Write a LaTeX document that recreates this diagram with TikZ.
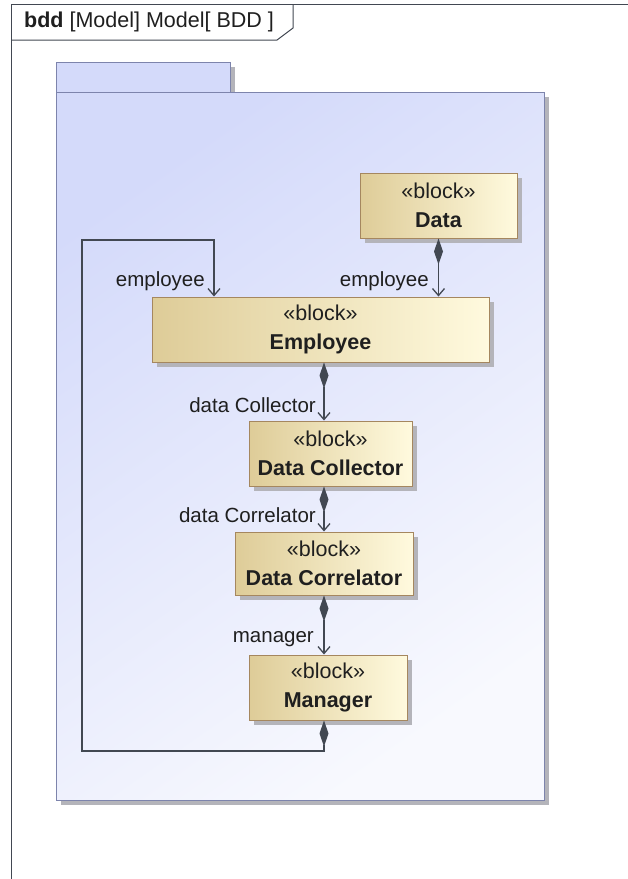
\documentclass[tikz,border=0pt]{standalone}
\usepackage{fontspec}
\setmainfont{Liberation Sans}
\usetikzlibrary{arrows.meta,shadows}

\definecolor{blockL}{RGB}{222,204,152}
\definecolor{blockR}{RGB}{255,250,222}
\definecolor{blockedge}{RGB}{165,135,95}
\definecolor{pkgA}{RGB}{212,218,250}
\definecolor{pkgB}{RGB}{248,249,254}
\definecolor{pkgedge}{RGB}{125,132,172}
\definecolor{linec}{RGB}{66,72,82}
\definecolor{shadowc}{RGB}{180,180,186}

\begin{document}
\begin{tikzpicture}[x=1pt,y=-1pt,
  every node/.style={font=\fontsize{20.5}{29}\selectfont,text=black!88},
  block/.style={draw=blockedge,line width=1pt,left color=blockL,right color=blockR,
    align=center,inner sep=0pt,font=\fontsize{21.5}{29}\selectfont,
    drop shadow={shadow xshift=5pt,shadow yshift=-5pt,fill=shadowc,opacity=1}},
  lbl/.style={anchor=east,inner sep=1pt},
  comp/.style={draw=linec,line width=1.3pt,
    {Diamond[length=26pt,width=9pt]}-{Straight Barb[length=7pt,width=12pt]}}]
  \useasboundingbox (0,0) rectangle (628,879);
  % diagram frame
  \draw[linec,line width=1pt] (11,879) -- (11,4) -- (628,4);
  \draw[linec,line width=1pt] (11,40) -- (277,40) -- (293,28) -- (293,4);
  \node[anchor=west,inner sep=0pt,font=\fontsize{21.5}{24}\selectfont] (title) at (24,22)
    {\textbf{bdd} [Model] Model[ BDD ]};
  % package
  \fill[shadowc] (61,67) rectangle (235,97);
  \fill[shadowc] (61,97) rectangle (549,805);
  \draw[pkgedge,fill=pkgA,line width=1pt] (56,62) rectangle (230,92);
  \draw[pkgedge,top color=pkgA,bottom color=pkgB,shading angle=35,line width=1pt]
    (56,92) rectangle (544,800);
  % blocks
  \node[block,minimum width=157pt,minimum height=65pt] (data) at (438.5,205.5)
    {«block»\\\textbf{Data}};
  \node[block,minimum width=337pt,minimum height=65pt] (employee) at (320.5,329.5)
    {«block»\\\textbf{Employee}};
  \node[block,minimum width=163pt,minimum height=65pt] (collector) at (330.5,453.5)
    {«block»\\\textbf{Data Collector}};
  \node[block,minimum width=178pt,minimum height=63pt] (correlator) at (324,563.5)
    {«block»\\\textbf{Data Correlator}};
  \node[block,minimum width=158pt,minimum height=65pt] (manager) at (328,687.5)
    {«block»\\\textbf{Manager}};
  % loop corners
  \coordinate (loopbl) at (82,751);
  \coordinate (loopin) at (214,240);
  % compositions
  \draw[comp] (data.south) -- (employee.north -| data.south);
  \draw[comp] (employee.south -| correlator) -- (collector.north -| correlator);
  \draw[comp] (collector.south -| correlator) -- (correlator.north);
  \draw[comp] (correlator.south) -- (manager.north -| correlator);
  \draw[comp] (manager.south -| correlator) |- (loopbl) |- (loopin) -- (employee.north -| loopin);
  % role names
  \node[lbl] (roleA) at (206,281) {employee};
  \node[lbl] (roleB) at (430,281) {employee};
  \node[lbl] (roleC) at (317,405) {data Collector};
  \node[lbl] (roleD) at (317,515) {data Correlator};
  \node[lbl] (roleE) at (315,639) {manager};
\end{tikzpicture}
\end{document}
